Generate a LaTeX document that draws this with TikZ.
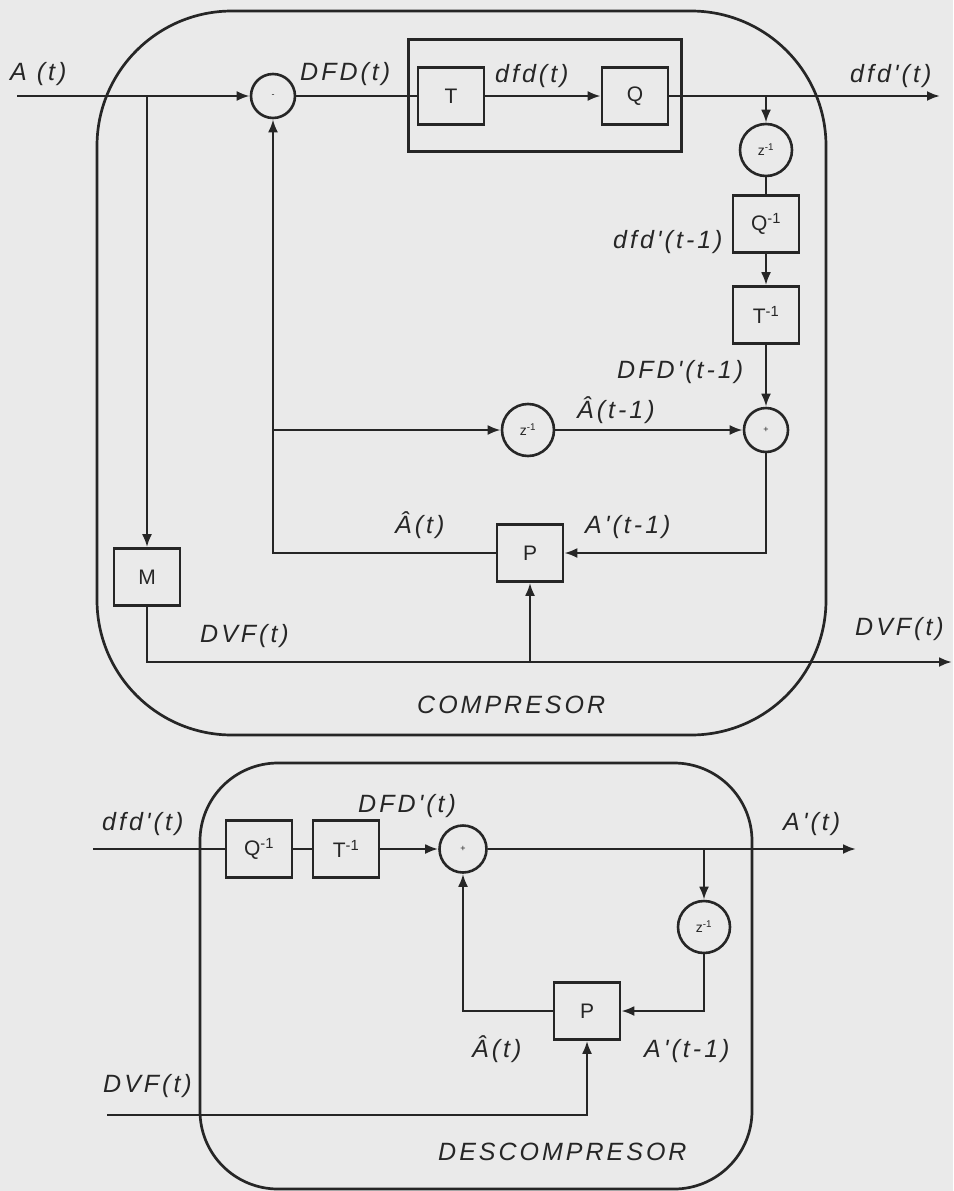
\documentclass[tikz,border=0pt]{standalone}
\usepackage{fontspec}
\setmainfont{Liberation Sans}
\newfontfamily\lblfont[LetterSpace=12]{Liberation Sans}
\usetikzlibrary{arrows.meta}
\definecolor{bg}{RGB}{234,234,234}
\definecolor{ink}{RGB}{38,38,38}
\begin{document}
\begin{tikzpicture}[x=1pt,y=-1pt,
  blk/.style={draw=ink, line width=2.6pt, minimum width=66pt, minimum height=57pt, inner sep=0pt, text=ink, font=\fontsize{21}{21}\selectfont},
  sumc/.style={circle, draw=ink, line width=2.6pt, minimum size=44pt, inner sep=0pt, text=ink, font=\fontsize{9}{9}\selectfont},
  delc/.style={circle, draw=ink, line width=2.6pt, minimum size=52pt, inner sep=0pt, text=ink, font=\fontsize{14}{14}\selectfont},
  lbl/.style={anchor=base west, inner sep=0pt, text=ink, font=\lblfont\itshape\fontsize{25}{25}\selectfont},
  wire/.style={draw=ink, line width=2.5pt},
  arr/.style={wire, -{Latex[length=13pt,width=10pt]}},
  frame/.style={draw=ink, line width=2.7pt}
]
\fill[bg] (0,0) rectangle (953,1191);
\useasboundingbox (0,0) rectangle (953,1191);

% ---------------- COMPRESOR ----------------
\draw[frame, rounded corners=135pt] (97,11) rectangle (826,735);
\node[frame, minimum width=273pt, minimum height=112pt, inner sep=0pt] (grp) at (545,95.5) {};

\node[sumc] (minus) at (273,96) {-};
\node[blk] (T) at (451,96) {T};
\node[blk] (Q) at (635,96) {Q};
\node[delc] (z1) at (766,150) {z\textsuperscript{-1}};
\node[blk] (Qi) at (766,224) {Q\textsuperscript{-1}};
\node[blk] (Ti) at (766,315) {T\textsuperscript{-1}};
\node[sumc] (plus) at (766,430) {+};
\node[delc] (z2) at (528,430) {z\textsuperscript{-1}};
\node[blk] (P) at (530,553) {P};
\node[blk] (M) at (147,577) {M};

\coordinate (ain) at (17,96);
\coordinate (bA) at (147,96);
\coordinate (qout) at (940,96);
\coordinate (bQ) at (766,96);
\coordinate (bZ) at (273,430);
\coordinate (bP) at (530,662);
\coordinate (dvfout) at (952,662);

\draw[arr] (ain) -- (minus);
\draw[arr] (bA) -- (M);
\draw[wire] (minus) -- (T);
\draw[arr] (T) -- (Q);
\draw[arr] (Q) -- (qout);
\draw[arr] (bQ) -- (z1);
\draw[wire] (z1) -- (Qi);
\draw[arr] (Qi) -- (Ti);
\draw[arr] (Ti) -- (plus);
\draw[arr] (z2) -- (plus);
\draw[arr] (plus.south) |- (P.east);
\draw[arr] (P.west) -| (minus.south);
\draw[arr] (bZ) -- (z2);
\draw[arr] (M.south) |- (dvfout);
\draw[arr] (bP) -- (P.south);

\node[lbl] (lA) at (10,80) {A (t)};
\node[lbl] (lDFD) at (300,80) {DFD(t)};
\node[lbl] (ldfd) at (495,82) {dfd(t)};
\node[lbl] (ldfdo) at (850,82) {dfd'(t)};
\node[lbl] (ldfd1) at (613,248) {dfd'(t-1)};
\node[lbl] (lDFD1) at (617,378) {DFD'(t-1)};
\node[lbl] (lAh1) at (577,418) {Â(t-1)};
\node[lbl] (lAh) at (395,533) {Â(t)};
\node[lbl] (lAp1) at (585,533) {A'(t-1)};
\node[lbl] (lDVF) at (200,642) {DVF(t)};
\node[lbl] (lDVFo) at (855,635) {DVF(t)};
\node[lbl] (lcomp) at (417,713) {COMPRESOR};

% ---------------- DESCOMPRESOR ----------------
\draw[frame, rounded corners=78pt] (200,763) rectangle (752,1189);

\node[blk] (Qi2) at (259,849) {Q\textsuperscript{-1}};
\node[blk] (Ti2) at (346,849) {T\textsuperscript{-1}};
\node[sumc, minimum size=47pt] (plus2) at (463,849) {+};
\node[delc] (z3) at (704,927) {z\textsuperscript{-1}};
\node[blk] (P2) at (587,1011) {P};

\coordinate (din) at (93,849);
\coordinate (aout) at (856,849);
\coordinate (bA2) at (704,849);
\coordinate (dvfin) at (107,1115);

\draw[wire] (din) -- (Qi2);
\draw[wire] (Qi2) -- (Ti2);
\draw[arr] (Ti2) -- (plus2);
\draw[arr] (plus2) -- (aout);
\draw[arr] (bA2) -- (z3);
\draw[arr] (z3.south) |- (P2.east);
\draw[arr] (P2.west) -| (plus2.south);
\draw[arr] (dvfin) -| (P2.south);

\node[lbl] (ldfdi) at (102,830) {dfd'(t)};
\node[lbl] (lDFDp) at (358,812) {DFD'(t)};
\node[lbl] (lApo) at (783,830) {A'(t)};
\node[lbl] (lAh2) at (472,1057) {Â(t)};
\node[lbl] (lAp2) at (644,1057) {A'(t-1)};
\node[lbl] (lDVFi) at (103,1092) {DVF(t)};
\node[lbl] (ldecomp) at (438,1160) {DESCOMPRESOR};
\end{tikzpicture}
\end{document}
